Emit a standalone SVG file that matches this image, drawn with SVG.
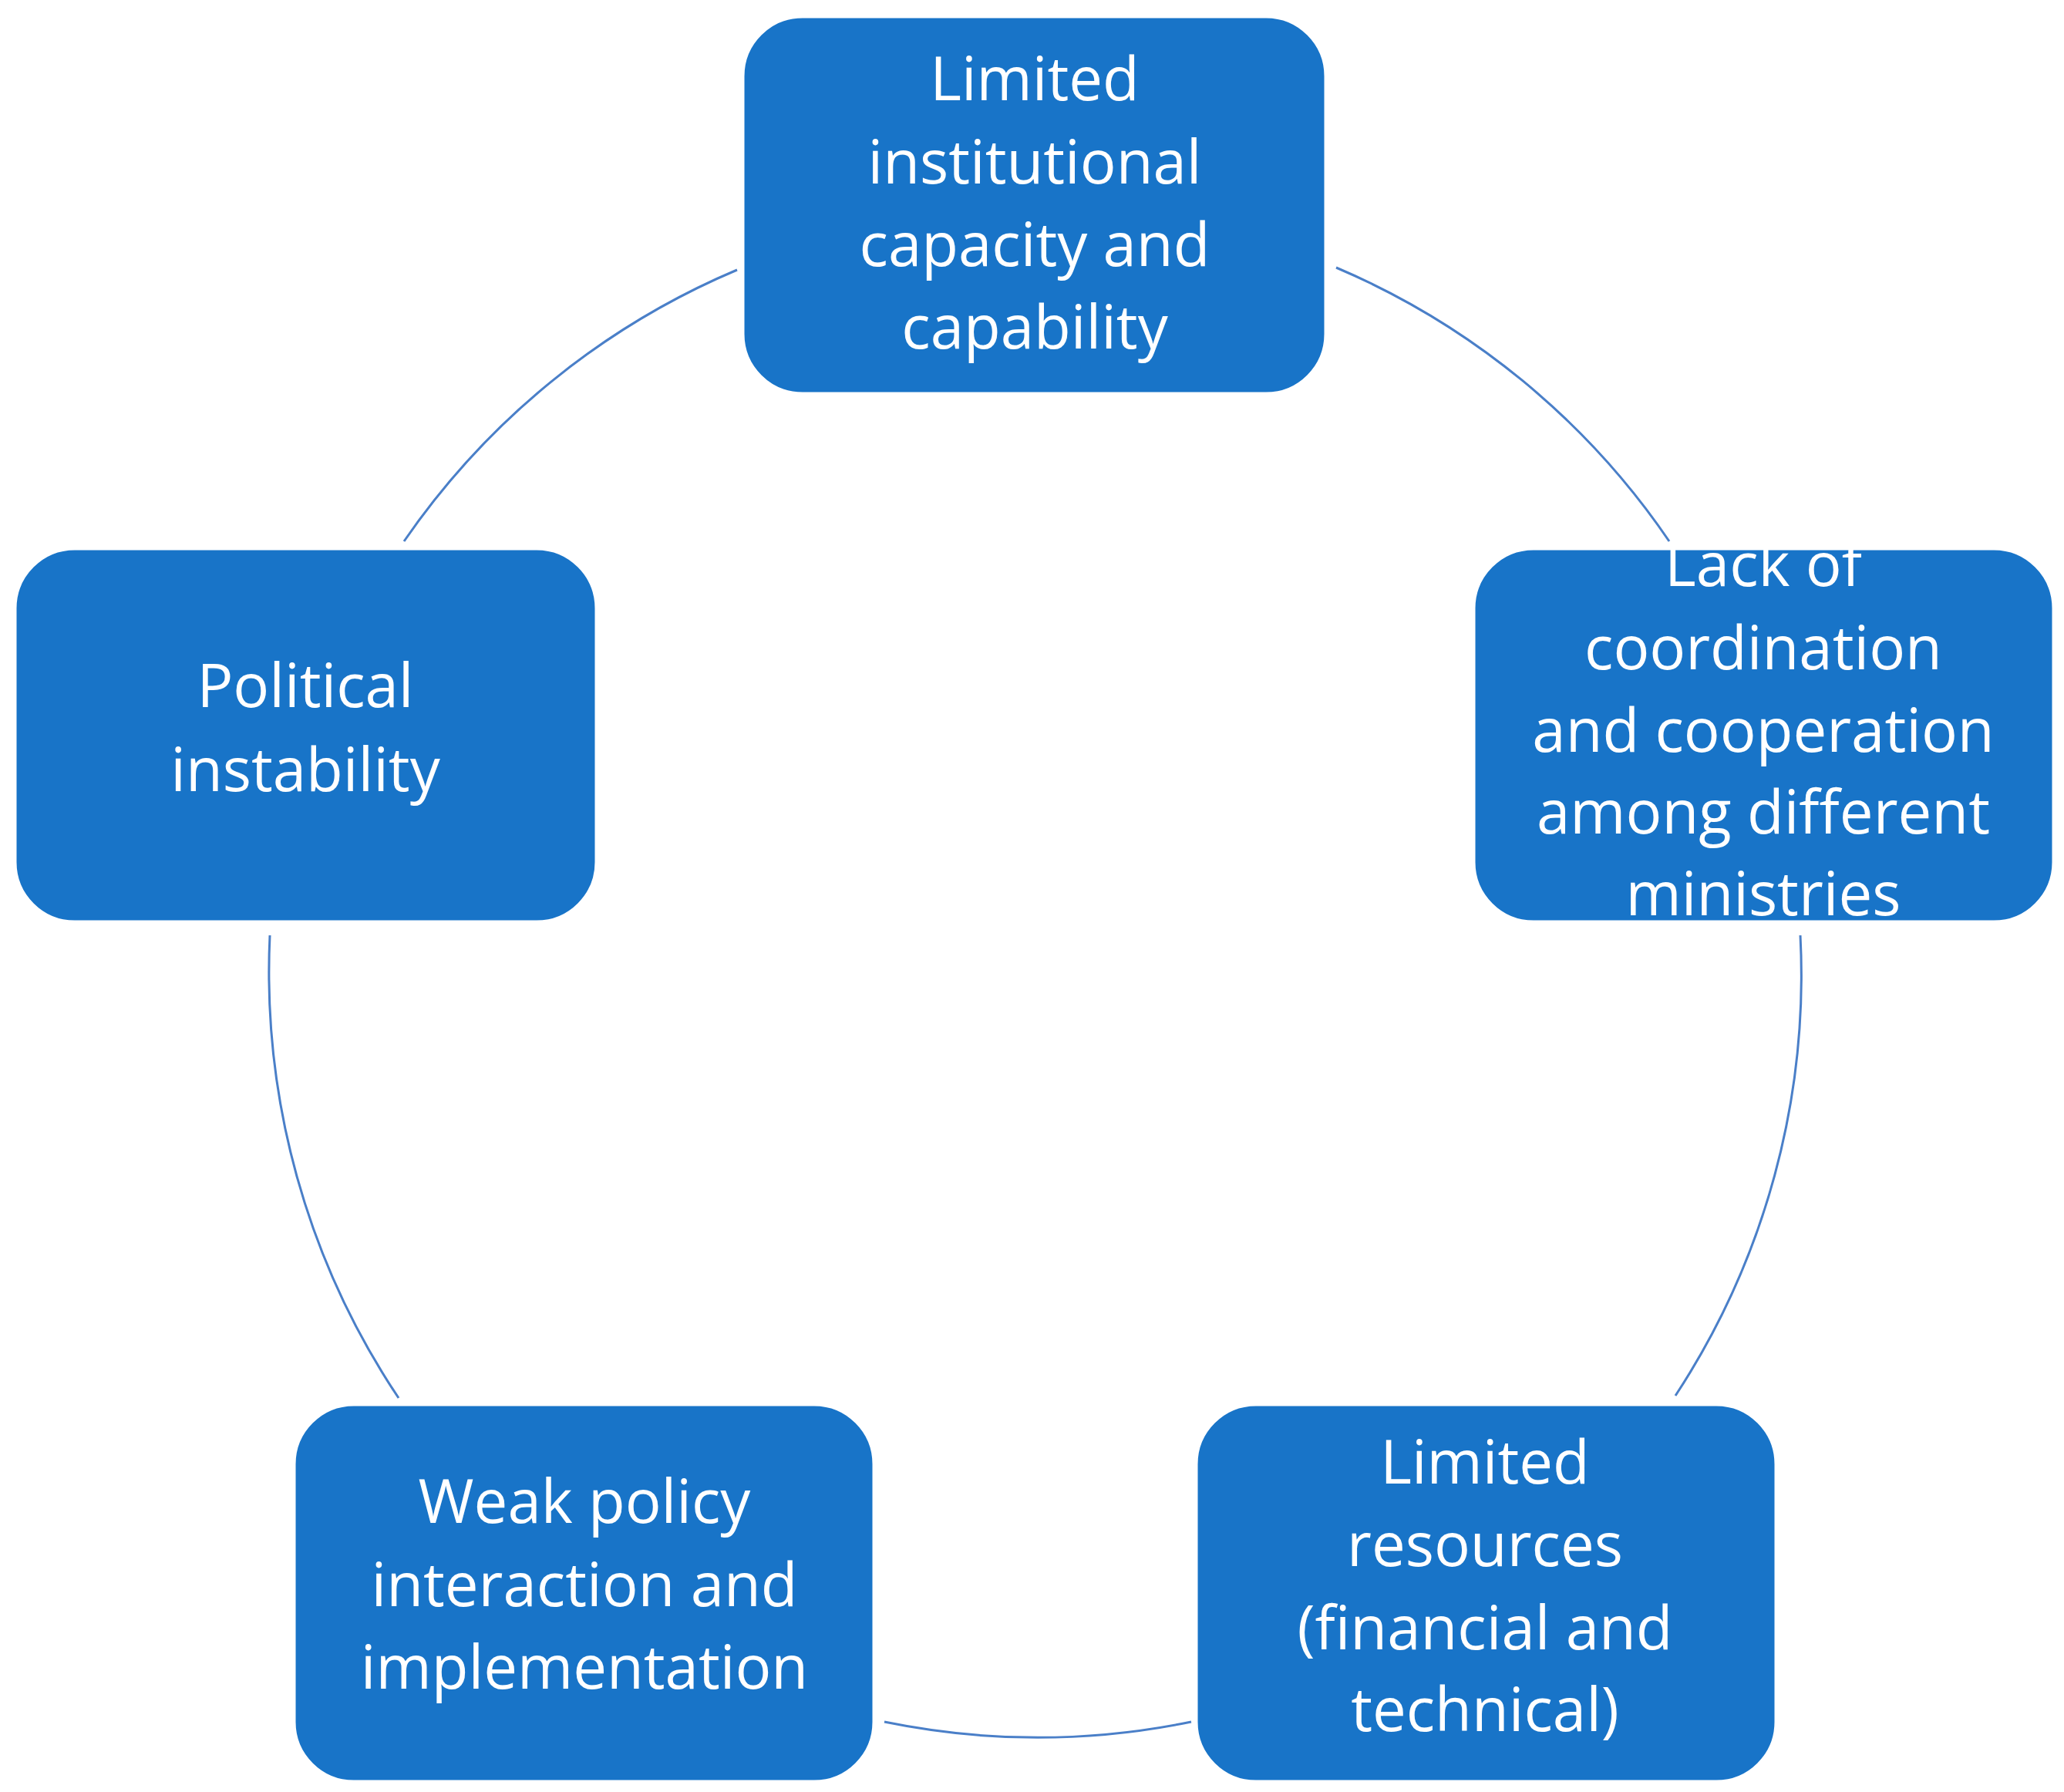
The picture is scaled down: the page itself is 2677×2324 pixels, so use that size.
<svg xmlns="http://www.w3.org/2000/svg" width="2677" height="2324" viewBox="0 0 2677 2324">
<style>
.b{fill:#1874C8;stroke:#fff;stroke-width:3}
.t{fill:#fff;font-family:"Open Sans","Liberation Sans",sans-serif;font-size:78px;text-anchor:middle}
.c{fill:none;stroke:#4A7FC8;stroke-width:3}
</style>
<rect width="2677" height="2324" fill="#fff"/>
<g id="connectors">
<path class="c" d="M956 350 A993 993 0 0 0 524 702"/>
<path class="c" d="M1733 347 A993 993 0 0 1 2165 702"/>
<path class="c" d="M2335 1213 A993 993 0 0 1 2173 1810"/>
<path class="c" d="M1545 2233 A993 993 0 0 1 1147 2233"/>
<path class="c" d="M517 1813 A993 993 0 0 1 350 1213"/>
</g>
<g id="n1"><rect class="b" x="964" y="22" width="755" height="488" rx="77"/>
<text class="t" x="1342" y="130">Limited</text><text class="t" x="1342" y="238">institutional</text><text class="t" x="1342" y="345">capacity and</text><text class="t" x="1342" y="452">capability</text></g>
<g id="n2"><rect class="b" x="1912" y="712" width="751" height="483" rx="77"/>
<text class="t" x="2287" y="760">Lack of</text><text class="t" x="2287" y="868">coordination</text><text class="t" x="2287" y="975">and cooperation</text><text class="t" x="2287" y="1081">among different</text><text class="t" x="2287" y="1187">ministries</text></g>
<g id="n3"><rect class="b" x="1552" y="1822" width="751" height="488" rx="77"/>
<text class="t" x="1926" y="1924">Limited</text><text class="t" x="1926" y="2031">resources</text><text class="t" x="1926" y="2139">(financial and</text><text class="t" x="1926" y="2245">technical)</text></g>
<g id="n4"><rect class="b" x="382" y="1822" width="751" height="488" rx="77"/>
<text class="t" x="758" y="1975">Weak policy</text><text class="t" x="758" y="2083">interaction and</text><text class="t" x="758" y="2190">implementation</text></g>
<g id="n5"><rect class="b" x="20" y="712" width="753" height="483" rx="77"/>
<text class="t" x="396" y="917">Political</text><text class="t" x="396" y="1026">instability</text></g>
</svg>
